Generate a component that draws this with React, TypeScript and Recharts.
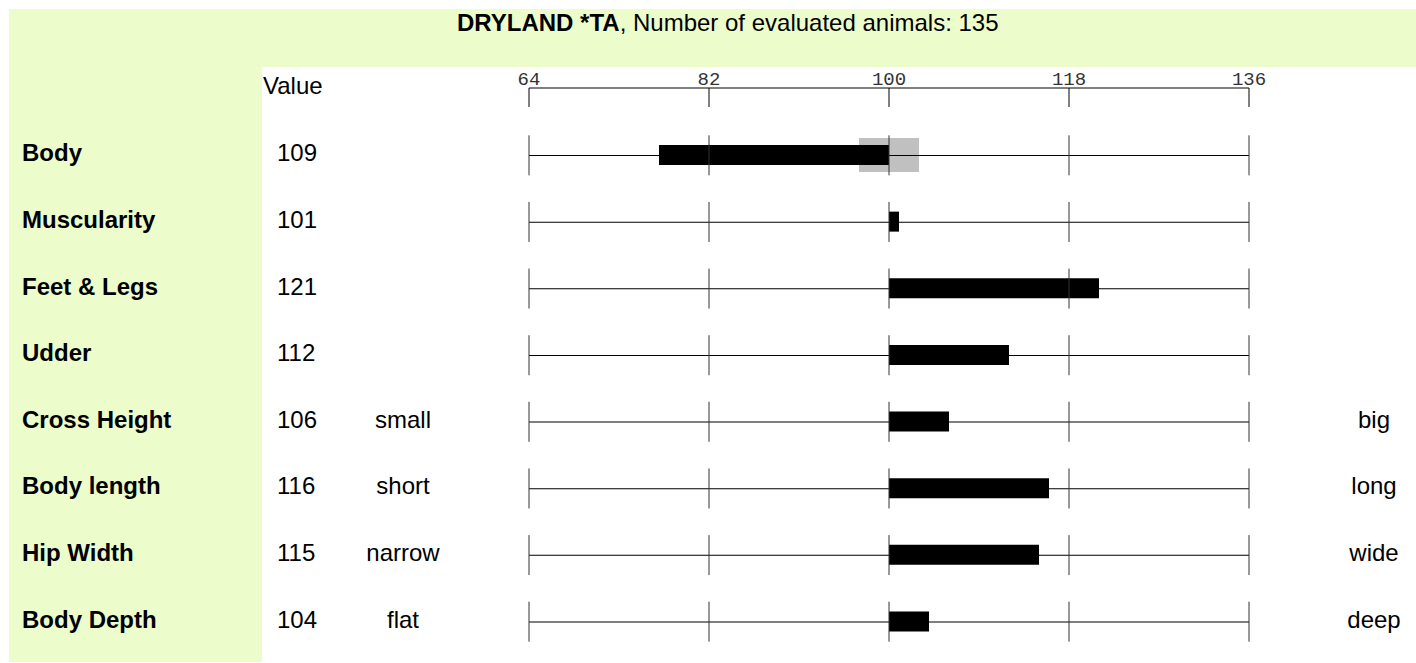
import React from "react"
import { ComposedChart, Bar, Scatter, XAxis, YAxis } from "recharts"

const GREEN = "#ecfccb"
const FONT = "'Liberation Sans', Arial, sans-serif"

const breed = "DRYLAND *TA"
const animalCount = 135

const rowNames = ["Body", "Muscularity", "Feet & Legs", "Udder", "Cross Height", "Body length", "Hip Width", "Body Depth"]
const rowValues = [109, 101, 121, 112, 106, 116, 115, 104]
const barFrom = [77, 100, 100, 100, 100, 100, 100, 100]
const barTo = [100, 101, 121, 112, 106, 116, 115, 104]
const boxFrom: (number | null)[] = [97, null, null, null, null, null, null, null]
const boxTo: (number | null)[] = [103, null, null, null, null, null, null, null]
const lowWords = ["", "", "", "", "small", "short", "narrow", "flat"]
const highWords = ["", "", "", "", "big", "long", "wide", "deep"]
const axisTicks = [64, 82, 100, 118, 136]

// table for recharts, one row per trait
const data = rowNames.map((name, i) => {
  const row: any = {
    name,
    track: [axisTicks[0], axisTicks[axisTicks.length - 1]],
    bar: [barFrom[i], barTo[i]],
    box: boxFrom[i] != null ? [boxFrom[i], boxTo[i]] : null,
  }
  axisTicks.forEach((t, k) => {
    row["t" + k] = t
  })
  return row
})

const Y_PAD = { top: 34, bottom: 0 }

function RowTick(props: any) {
  const { y, payload } = props
  const i = rowNames.indexOf(payload.value)
  const base = y + 6
  return (
    <g fontFamily={FONT} fontSize={24} fill="#000">
      <text x={22} y={base} fontWeight="bold">{rowNames[i]}</text>
      <text x={277} y={base}>{rowValues[i]}</text>
      {lowWords[i] && <text x={403} y={base} textAnchor="middle">{lowWords[i]}</text>}
      {highWords[i] && <text x={1374} y={base} textAnchor="middle">{highWords[i]}</text>}
    </g>
  )
}

function TopTick(props: any) {
  const { x, y, payload } = props
  return (
    <g>
      <line x1={x} x2={x} y1={y} y2={y + 19} stroke="#000" />
      <text x={x} y={y - 3} textAnchor="middle" fontFamily="'Liberation Mono', monospace" fontSize={19} fill="#333">
        {payload.value}
      </text>
    </g>
  )
}

function RowMark(props: any) {
  const { cx, cy } = props
  return <line x1={cx} x2={cx} y1={cy - 20} y2={cy + 20} stroke="#333" />
}

export default function App() {
  return (
    <div style={{ position: "absolute", left: 0, top: 0, width: 1416, height: 663, background: "#fff" }}>
      <svg style={{ position: "absolute", left: 0, top: 0 }} width={1416} height={663}>
        <rect x={9} y={9} width={1407} height={58} fill={GREEN} />
        <rect x={9} y={9} width={253} height={653} fill={GREEN} />
        <text x={457} y={31} fontFamily={FONT} fontSize={24} fill="#000">
          <tspan fontWeight="bold">{breed}</tspan>
          {`, Number of evaluated animals: ${animalCount}`}
        </text>
        <text x={263} y={94} fontFamily={FONT} fontSize={24} fill="#000">Value</text>
      </svg>
      <div style={{ position: "absolute", left: 0, top: 0 }}>
        <ComposedChart
          width={1416}
          height={663}
          data={data}
          layout="vertical"
          margin={{ top: 58, right: 167, bottom: 8, left: 0 }}
        >
          <XAxis
            type="number"
            orientation="top"
            domain={[64, 136]}
            ticks={axisTicks}
            interval={0}
            height={30}
            tickSize={0}
            tickMargin={0}
            tickLine={false}
            axisLine={{ stroke: "#000" }}
            tick={<TopTick />}
          />
          <YAxis
            type="category"
            dataKey="name"
            width={529}
            padding={Y_PAD}
            axisLine={false}
            tickLine={false}
            interval={0}
            tick={<RowTick />}
          />
          <YAxis yAxisId="box" type="category" dataKey="name" hide padding={Y_PAD} />
          <YAxis yAxisId="track" type="category" dataKey="name" hide padding={Y_PAD} />
          <YAxis yAxisId="bar" type="category" dataKey="name" hide padding={Y_PAD} />
          <Bar yAxisId="box" dataKey="box" barSize={34} fill="#c0c0c0" isAnimationActive={false} />
          <Bar yAxisId="track" dataKey="track" barSize={1} fill="#000" isAnimationActive={false} />
          <Bar yAxisId="bar" dataKey="bar" barSize={20} fill="#000" isAnimationActive={false} />
          {axisTicks.map((t, k) => (
            <Scatter key={t} dataKey={"t" + k} shape={<RowMark />} isAnimationActive={false} />
          ))}
        </ComposedChart>
      </div>
    </div>
  )
}
